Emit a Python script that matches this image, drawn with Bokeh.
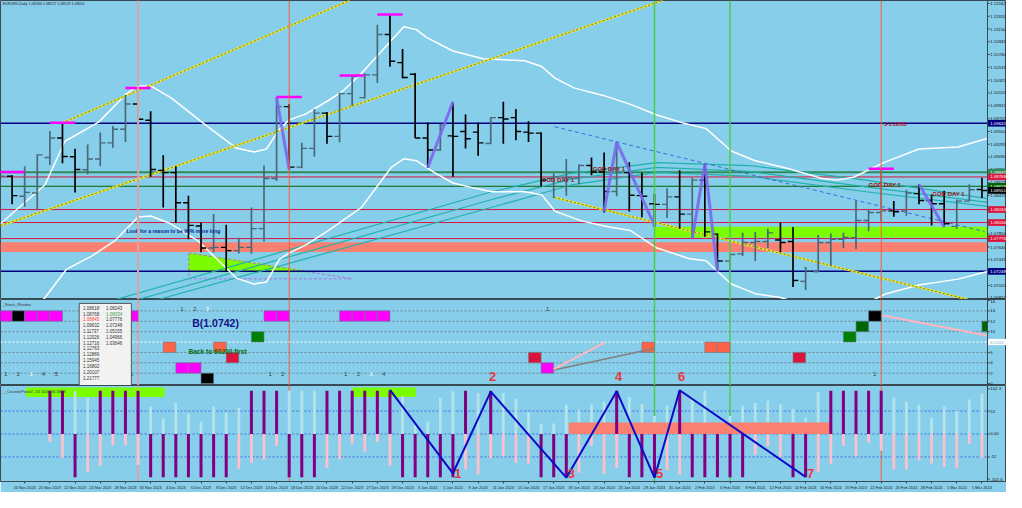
from bokeh.plotting import figure
from bokeh.layouts import column
from bokeh.models import (ColumnDataSource, Span, LabelSet, Range1d,
                          FixedTicker, CustomJSTickFormatter)
from bokeh.core.properties import value
from bokeh.embed import file_html
from bokeh.resources import INLINE

# ======================= DATA =======================
nov_days = [14, 15, 16, 17, 20, 21, 22, 23, 24, 27, 28, 29, 30]
dec_days = [1, 4, 5, 6, 7, 8, 11, 12, 13, 14, 15, 18, 19, 20, 21, 22, 26, 27, 28, 29]
jan_days = [2, 3, 4, 5, 8, 9, 10, 11, 12, 15, 16, 17, 18, 19, 22, 23, 24, 25, 26, 29, 30, 31]
feb_days = [1, 2, 5, 6, 7, 8, 9, 12, 13, 14, 15, 16, 19, 20, 21, 22, 23, 26, 27, 28, 29]
mar_days = [1, 4, 5]
bar_dates = ([f"{d} Nov 2023" for d in nov_days] + [f"{d} Dec 2023" for d in dec_days] +
             [f"{d} Jan 2024" for d in jan_days] + [f"{d} Feb 2024" for d in feb_days] +
             [f"{d} Mar 2024" for d in mar_days])

opens = [1.06990, 1.08780, 1.08457, 1.08509, 1.09082, 1.09395, 1.09093, 1.08884, 1.09056, 1.09317,
         1.09535, 1.09942, 1.09681, 1.08874, 1.08837, 1.08353, 1.07978, 1.07623, 1.07634, 1.07582,
         1.07634, 1.07936, 1.08743, 1.09900, 1.08926, 1.09228, 1.09796, 1.09421, 1.10109, 1.10046,
         1.10411, 1.11062, 1.10609, 1.10421, 1.09395, 1.09202, 1.09430, 1.09499, 1.09489, 1.09306,
         1.09723, 1.09723, 1.09489, 1.09473, 1.08754, 1.08754, 1.08754, 1.08952, 1.08848, 1.08535,
         1.08837, 1.08467, 1.08337, 1.08327, 1.08447, 1.08170, 1.08717, 1.07847, 1.07415, 1.07530,
         1.07712, 1.07728, 1.07754, 1.07728, 1.07087, 1.07243, 1.07712, 1.07764, 1.07790, 1.08066,
         1.08196, 1.08222, 1.08222, 1.08499, 1.08389, 1.08337, 1.07972, 1.08379, 1.08566]
highs = [1.08848, 1.08796, 1.08941, 1.09134, 1.09509, 1.09640, 1.09223, 1.09291, 1.09483, 1.09588,
         1.10088, 1.10202, 1.09827, 1.09119, 1.08941, 1.08467, 1.08040, 1.08170, 1.07998, 1.07790,
         1.08275, 1.08952, 1.10056, 1.09942, 1.09317, 1.09864, 1.09812, 1.10124, 1.10400, 1.10437,
         1.11218, 1.11385, 1.10827, 1.10437, 1.09645, 1.09629, 1.09968, 1.09775, 1.09645, 1.09730,
         1.09978, 1.09864, 1.09666, 1.09483, 1.08822, 1.09056, 1.08968, 1.09082, 1.09160, 1.09327,
         1.09004, 1.08837, 1.08493, 1.08587, 1.08874, 1.08754, 1.08978, 1.07858, 1.07545, 1.07868,
         1.07884, 1.07936, 1.08040, 1.07962, 1.07321, 1.07832, 1.07858, 1.07868, 1.08379, 1.08249,
         1.08900, 1.08379, 1.08561, 1.08650, 1.08483, 1.08546, 1.08405, 1.08650, 1.08754]
lows = [1.06950, 1.08327, 1.08290, 1.08249, 1.08962, 1.08988, 1.08519, 1.08811, 1.08941, 1.09238,
        1.09332, 1.09593, 1.08770, 1.08275, 1.08025, 1.07764, 1.07556, 1.07556, 1.07243, 1.07535,
        1.07530, 1.07728, 1.08702, 1.08884, 1.08910, 1.09093, 1.09301, 1.09327, 1.09916, 1.10030,
        1.10280, 1.10541, 1.10359, 1.09395, 1.08915, 1.09190, 1.08770, 1.09228, 1.09108, 1.09300,
        1.09301, 1.09358, 1.09332, 1.08613, 1.08431, 1.08467, 1.08650, 1.08796, 1.08196, 1.08457,
        1.08212, 1.08118, 1.07962, 1.08108, 1.07936, 1.07780, 1.07806, 1.07243, 1.07233, 1.07493,
        1.07415, 1.07623, 1.07556, 1.06998, 1.06946, 1.07233, 1.07337, 1.07623, 1.07608, 1.07894,
        1.08040, 1.08129, 1.08144, 1.08327, 1.07988, 1.07962, 1.07936, 1.08379, 1.08431]
closes = [1.08780, 1.08467, 1.08519, 1.09124, 1.09395, 1.09098, 1.08889, 1.09056, 1.09317, 1.09535,
          1.09942, 1.09697, 1.08889, 1.08837, 1.08353, 1.07988, 1.07623, 1.07634, 1.07582, 1.07634,
          1.07936, 1.08743, 1.09900, 1.08926, 1.09228, 1.09796, 1.09421, 1.10109, 1.10385, 1.10411,
          1.11062, 1.10630, 1.10369, 1.09395, 1.09202, 1.09603, 1.09421, 1.09384, 1.09317, 1.09723,
          1.09700, 1.09499, 1.09473, 1.08717, 1.08770, 1.08760, 1.08952, 1.08848, 1.08535, 1.08837,
          1.08473, 1.08457, 1.08327, 1.08447, 1.08170, 1.08717, 1.07884, 1.07415, 1.07519, 1.07712,
          1.07728, 1.07868, 1.07712, 1.07102, 1.07259, 1.07712, 1.07764, 1.07795, 1.08066, 1.08196,
          1.08222, 1.08207, 1.08509, 1.08389, 1.08337, 1.08014, 1.08379, 1.08561, 1.08551]

price_ticks = [1.11562, 1.11355, 1.11150, 1.10945, 1.10740, 1.10533, 1.10325, 1.10120, 1.09915,
               1.09705, 1.09500, 1.09295, 1.09090, 1.08880, 1.08675, 1.08470, 1.08260, 1.08055,
               1.07850, 1.07640, 1.07435, 1.07230, 1.07020, 1.06815]
price_min, price_max = 1.06795, 1.11609

blue_levels = [1.09632, 1.07248]
red_levels = [1.08768, 1.08243, 1.08034, 1.07776]
green_level_thick = 1.08845
green_level_thin = 1.08618
last_price = 1.08551
salmon_zone = [1.07561, 1.07717]
lime_zone = [1.07795, 1.07967]
lime_zone_from = 52

bb_upper_x = [0.08, 3.6, 5.2, 7.9, 10.0, 11.0, 12.0, 13.6, 16.25, 18.8, 20.2, 21.2, 22.2, 23.0, 24.3,
              26.1, 27.2, 28.75, 30.0, 32.1, 33.1, 33.9, 36.0, 38.4, 41.7, 43.05, 44.1, 45.6, 48.0,
              50.1, 52.2, 54.2, 56.1, 58.1, 60.0, 62.6, 65.2, 66.5, 67.8, 70.2, 73.0, 76.1, 78.2, 78.44]
bb_upper_y = [1.08014, 1.08639, 1.09343, 1.09655, 1.10093, 1.10234, 1.10234, 1.10046, 1.09624,
              1.09233, 1.09171, 1.09218, 1.09530, 1.09687, 1.09780, 1.09999, 1.10140, 1.10437,
              1.10718, 1.11187, 1.11140, 1.11015, 1.10796, 1.10671, 1.10640, 1.10546, 1.10359,
              1.10202, 1.10077, 1.09937, 1.09765, 1.09640, 1.09546, 1.09186, 1.09030, 1.08905,
              1.08749, 1.08717, 1.08764, 1.08999, 1.09218, 1.09249, 1.09374, 1.09388]
bb_lower_x = [2.8, 5.3, 7.35, 9.2, 11.0, 12.0, 13.6, 15.7, 17.8, 18.8, 20.2, 21.2, 22.2, 23.0, 24.3,
              26.1, 28.75, 31.1, 32.1, 33.1, 34.5, 36.0, 37.6, 39.1, 41.7, 43.05, 44.1, 46.2, 48.3,
              50.1, 52.2, 54.8, 56.1, 58.1, 60.0, 62.0, 65.7, 68.8, 70.4, 73.0, 76.1, 78.2, 78.44]
bb_lower_y = [1.06607, 1.07279, 1.07498, 1.07748, 1.08124, 1.08139, 1.08014, 1.07748, 1.07342,
              1.07139, 1.07045, 1.07076, 1.07436, 1.07545, 1.07670, 1.07905, 1.08280, 1.08921,
              1.09061, 1.09030, 1.08842, 1.08671, 1.08592, 1.08530, 1.08530, 1.08483, 1.08217,
              1.08061, 1.07967, 1.07905, 1.07623, 1.07451, 1.07420, 1.07045, 1.06889, 1.06826,
              1.06607, 1.06732, 1.06889, 1.07029, 1.07123, 1.07233, 1.07248]

fan_x = [[9.22, 39.1, 45.4, 52.2, 59.5, 68.8, 78.44],
         [11.0, 39.1, 45.4, 52.2, 59.5, 68.8, 78.44],
         [12.6, 39.1, 45.4, 52.2, 59.5, 68.8, 78.44]]
fan_y = [[1.06795, 1.08530, 1.08827, 1.08999, 1.08952, 1.08717, 1.08420],
         [1.06795, 1.08405, 1.08733, 1.08921, 1.08858, 1.08608, 1.08358],
         [1.06795, 1.08280, 1.08639, 1.08842, 1.08780, 1.08530, 1.08295]]

yellow_x = [[5.0, 27.8], [0.08, 52.66], [44.06, 76.9]]
yellow_y = [[1.09640, 1.11609], [1.07983, 1.11609], [1.08436, 1.06795]]
blue_dash_x = [44.06, 78.2]
blue_dash_y = [1.09577, 1.07889]

swing_x = [[22, 23], [34, 36], [48, 49, 52], [55, 56, 57], [73, 75]]
swing_y = [[1.10046, 1.08889], [1.08916, 1.09979], [1.08213, 1.09327, 1.07987],
           [1.07780, 1.08978, 1.07244], [1.08650, 1.07962]]

mag_bars = [0, 4, 10, 22, 27, 30, 69]
mag_prices = [1.08848, 1.09640, 1.10200, 1.10056, 1.10400, 1.11385, 1.08900]

tri_x = [15.03, 15.03, 24.6]
tri_y = [1.07545, 1.07243, 1.07243]
tri_guide_x = [15.03, 28.0]
tri_guide_y = [1.07545, 1.07128]

v_pale_bar = 11
v_red_bars = [23, 70]
v_green_bars = [52, 58]

god_day_x = [43.05, 47.1, 69.0, 74.06]
god_day_y = [1.08717, 1.08889, 1.08639, 1.08499]

# stochastic-style blocks panel
stoch_bars = [0, 1, 2, 3, 4, 10, 13, 14, 15, 16, 17, 18, 20, 21, 22, 27, 28, 29, 30,
              42, 43, 51, 56, 57, 63, 67, 68, 69, 78]
stoch_levels = [13, 13, 13, 13, 13, 13, 7, 3, 3, 1, 7, 5, 9, 13, 13, 13, 13, 13, 13,
                5, 3, 7, 7, 7, 5, 9, 11, 13, 11]
stoch_kind = ["M", "K", "M", "M", "M", "M", "T", "M", "M", "K", "T", "C", "G", "M", "M",
              "M", "M", "M", "M", "C", "M", "T", "T", "T", "C", "G", "D", "K", "D"]
stoch_num_bars = [0, 1, 2, 3, 4, 10, 14, 15, 16, 21, 22, 27, 28, 29, 30, 43, 69]
stoch_num_text = ["1", "2", "3", "4", "5", "1", "1", "2", "3", "1", "2", "1", "2", "3", "4", "1", "1"]
stoch_num_top = [0, 0, 0, 0, 0, 0, 1, 1, 1, 0, 0, 0, 0, 0, 0, 1, 0]
stoch_grid = [2, 4, 6, 10, 12, 14]
stoch_ticks = [16, 14, 12, 10, 6, 4, 2, 0]
table_left = ["1.08618", "1.08768", "1.08845", "1.09632", "1.11737", "1.12026", "1.12716",
              "1.12763", "1.12889", "1.15945", "1.16802", "1.20107", "1.21777"]
table_right = ["1.08243", "1.08034", "1.07776", "1.07248", "1.05155", "1.04966", "1.03646"]
stoch_lines_x = [[44.0, 52.0], [44.0, 48.05], [70.05, 78.4]]
stoch_lines_y = [[2.6, 6.75], [2.8, 7.9], [13.15, 9.25]]

# counterpoint histogram panel
cp_pos = [None, None, None, None, 98, 98, 97, 82, 98, 98, 98, 98, 62, 35, 70, 46, 28, 62, 48, 59,
          98, 98, 98, 98, 98, 98, 98, 98, 98, 98, 98, 98, 86, 19, 28, 82, 97, 98, 92, 98,
          92, 80, 48, 23, 24, 66, 55, 67, 73, 98, 84, 68, 41, 64, 98, 84, 98, 6, 41, 64,
          70, 75, 67, 57, 36, 95, 98, 98, 98, 98, 98, 82, 73, 66, 36, 62, 52, 78, 91]
cp_pos_kind = "----PPLLPPPPLLLLLLLLPPPLLLPPPPPPLLLLLPLPLLLLLLLLLPLLLLPLLLLLLLLLLLPPPPPLLLLLLLL"
cp_neg = [None, None, None, None, -18, -54, -98, -87, -72, -25, -25, -70, -98, -98, -98, -98, -98,
          -98, -98, -79, -65, -58, -27, -98, -98, -98, -77, -57, -22, -40, -18, -72, -98, -98,
          -98, -98, -98, -80, -92, -55, -51, -65, -67, -98, -98, -98, -88, -27, -90, -77, -98,
          -98, -98, -82, -92, -98, -98, -98, -98, -98, -47, -27, -52, -98, -98, -87, -68, -27,
          -51, -20, -38, -80, -81, -60, -67, -74, -77, -22, -54]
cp_neg_kind = "----KKPKKKKKPPPPPPPKKKKPPPKKKKKKPPPPPKKKKKKPPPKKKKPPPKKPPPPPKKKPPKKKKKKKKKKKKKK"
cp_band = [45.2, 66.1, 0, 26]
cp_lime = [[2.1, 13.1], [28.0, 33.05]]
zig_bars = [31, 36, 39, 45, 49, 52, 54, 64]
zig_vals = [100, -89, 96, -99, 97, -99, 99, -97]
zig_names = ["", "1", "2", "3", "4", "5", "6", "7"]
cp_ticks = [102.3, 52, 0, -52, -102.3]
cp_tick_text = ["102.3", "52", "0.00", "-52", "-102.3"]

# ======================= STYLE / LAYOUT =======================
BG = "#87ceeb"
W = 1006
FW = 987                      # width of the plotting area left of the price scale
X0 = 0.08
AXIS_X = 78.44                # position of the price-scale line (in bar units)
X1 = X0 + (AXIS_X - X0) * W / FW
FRAME = "#3a4a55"
SANS = "Liberation Sans, Arial, DejaVu Sans, sans-serif"

xr = Range1d(X0, X1)
LAB_X = AXIS_X + 0.22


def make_fig(h, yr, xaxis=False):
    f = figure(width=W, height=h, x_range=xr, y_range=yr, output_backend="svg",
               toolbar_location=None, x_axis_type=("linear" if xaxis else None),
               y_axis_type=None, min_border_left=0, min_border_right=0,
               min_border_top=0, min_border_bottom=0,
               background_fill_color=BG, border_fill_color=BG,
               outline_line_color=FRAME, outline_line_width=1)
    f.grid.visible = False
    return f


def vlines(f, level="annotation"):
    f.add_layout(Span(location=v_pale_bar, dimension="height", line_color="#dea3a3",
                      line_width=2, level=level))
    for b in v_red_bars:
        f.add_layout(Span(location=b, dimension="height", line_color="#ff5a36",
                          line_width=1, level=level))
    for b in v_green_bars:
        f.add_layout(Span(location=b, dimension="height", line_color="#4ccd4c",
                          line_width=1.5, level=level))
    f.add_layout(Span(location=AXIS_X, dimension="height", line_color=FRAME,
                      line_width=1, level="annotation"))


def hlines(f, vals, color, width, dash="solid"):
    f.segment(x0=[X0] * len(vals), y0=vals, x1=[AXIS_X] * len(vals), y1=vals,
              line_color=color, line_width=width, line_dash=dash)


def scale_labels(f, vals, texts, tick_len, margin, color="#111111"):
    lo, hi = f.y_range.start + margin, f.y_range.end - margin
    f.segment(x0=[AXIS_X] * len(vals), y0=vals, x1=[AXIS_X + tick_len] * len(vals), y1=vals,
              line_color=FRAME, line_width=1)
    f.text(x=[LAB_X] * len(vals), y=[min(max(v, lo), hi) for v in vals], text=texts,
           text_font=value(SANS), text_font_size="4.3px", text_baseline="middle",
           text_color=color)


def scale_box(f, v, half, text, fill, tcolor="white"):
    f.quad(left=[AXIS_X + 0.05], right=[X1], bottom=[v - half], top=[v + half],
           fill_color=fill, line_color=fill)
    f.text(x=[LAB_X], y=[v], text=[text], text_font=value(SANS), text_font_size="4.3px",
           text_baseline="middle", text_color=tcolor)


# ---------------- main price panel ----------------
p1 = make_fig(299, Range1d(price_min, price_max))

p1.quad(left=[X0], right=[AXIS_X], bottom=[salmon_zone[0]], top=[salmon_zone[1]],
        fill_color="#fa8072", line_color=None)
p1.quad(left=[lime_zone_from], right=[AXIS_X], bottom=[lime_zone[0]], top=[lime_zone[1]],
        fill_color="#7cfc00", line_color=None)

p1.patch(tri_x, tri_y, fill_color="#7cfc00", line_color="#7cfc00", line_width=1)
p1.line(tri_guide_x, tri_guide_y, line_color="#b070e0", line_dash="3 2", line_width=1)
p1.line([tri_guide_x[0], tri_guide_x[1]], [tri_guide_y[1], tri_guide_y[1]],
        line_color="#b070e0", line_dash="3 2", line_width=1)
p1.line([tri_guide_x[0], tri_guide_x[0]], [tri_guide_y[0], tri_guide_y[1]],
        line_color="#b070e0", line_dash="3 2", line_width=1)

hlines(p1, blue_levels, "#000080", 1.5)
hlines(p1, red_levels, "#dc143c", 1)
hlines(p1, [green_level_thick], "#2e8b57", 2)
hlines(p1, [green_level_thin], "#006400", 1)

p1.multi_line(fan_x, fan_y, line_color="#20b2aa", line_width=1.2)
p1.line(bb_upper_x, bb_upper_y, line_color="white", line_width=1.5)
p1.line(bb_lower_x, bb_lower_y, line_color="white", line_width=1.5)
p1.multi_line(yellow_x, yellow_y, line_color="#e8e830", line_width=2)
p1.multi_line(yellow_x, yellow_y, line_color="#7d7d2a", line_width=1, line_dash="2 2")
p1.line(blue_dash_x, blue_dash_y, line_color="#4169e1", line_width=1, line_dash="4 3")

xs = list(range(len(opens)))
bar_col = ["#4a6878" if c >= o else "#000000" for o, c in zip(opens, closes)]
bsrc = ColumnDataSource(dict(x=xs, o=opens, h=highs, l=lows, c=closes,
                             xl=[x - 0.42 for x in xs], xr=[x + 0.42 for x in xs], col=bar_col))
p1.segment("x", "l", "x", "h", source=bsrc, line_color="col", line_width=1.7)
p1.segment("xl", "o", "x", "o", source=bsrc, line_color="col", line_width=1.4)
p1.segment("x", "c", "xr", "c", source=bsrc, line_color="col", line_width=1.4)

p1.multi_line(swing_x, swing_y, line_color="#7b68ee", line_width=3, line_alpha=0.9)
p1.segment(x0=mag_bars, y0=mag_prices, x1=[b + 2 for b in mag_bars], y1=mag_prices,
           line_color="#ff00ff", line_width=2.5)

vlines(p1)

p1.text(x=god_day_x, y=god_day_y, text=["GOD DAY 1"] * len(god_day_x),
        text_font=value(SANS), text_font_style="bold", text_font_size="6px",
        text_color="#9b1010", text_baseline="middle")
p1.text(x=[10.08], y=[1.07905], text=["Look for a reason to be 90% more long"],
        text_font=value(SANS), text_font_style="bold", text_font_size="5.1px",
        text_color="#0b1f8a", text_baseline="middle")
p1.text(x=[70.2], y=[1.09624], text=["S-1.09563"], text_font=value(SANS),
        text_font_style="bold", text_font_size="5px", text_color="#b01030",
        text_baseline="middle")
p1.text(x=[0.25], y=[1.11545], text=["EURUSD,Daily  1.08566 1.08572 1.08523 1.08551"],
        text_font=value(SANS), text_font_size="3.7px", text_color="#222222",
        text_baseline="middle")

scale_labels(p1, price_ticks, [f"{v:.5f}" for v in price_ticks], 0.18, 0.0004)
half_p = 0.00045
for v, fc in [(blue_levels[0], "#000080"), (green_level_thick, "#2e8b57"),
              (red_levels[0], "#dc143c"), (green_level_thin, "#006400"),
              (last_price, "#000000"), (red_levels[1], "#dc143c"), (red_levels[2], "#dc143c"),
              (red_levels[3], "#dc143c"), (blue_levels[1], "#000080")]:
    scale_box(p1, v, half_p, f"{v:.5f}", fc)

# ---------------- stochastic panel ----------------
p2 = make_fig(86, Range1d(-0.37, 16.19))
hlines(p2, stoch_grid, "#6f8190", 1, "2 2")
hlines(p2, [8], "white", 1, "2 2")
vlines(p2, "underlay")

kind_col = {"M": "#ff00ff", "K": "#000000", "T": "#ff6347", "C": "#dc143c",
            "G": "#008000", "D": "#006400"}
p2.quad(left=stoch_bars, right=[min(b + 1, AXIS_X) for b in stoch_bars],
        bottom=[v - 1 for v in stoch_levels], top=[v + 1 for v in stoch_levels],
        fill_color=[kind_col[k] for k in stoch_kind], line_color="#5f7f8f", line_width=0.6)
p2.multi_line(stoch_lines_x[:1], stoch_lines_y[:1], line_color="#808080", line_width=1.5)
p2.multi_line(stoch_lines_x[1:], stoch_lines_y[1:], line_color="#ffb6c1", line_width=2)

p2.text(x=[b + 0.5 for b in stoch_num_bars], y=[14.4 if t else 1.85 for t in stoch_num_top],
        text=stoch_num_text, text_font=value(SANS), text_font_size="5.5px",
        text_color=["white" if s == "3" else "#333333" for s in stoch_num_text],
        text_align="center", text_baseline="middle")

# info table
p2.quad(left=[6.33], right=[10.47], bottom=[-1], top=[15.44], fill_color="#f2f2f2",
        line_color="#555555", line_width=1)
p2.text(x=[6.62] * len(table_left), y=[14.6 - 1.12 * i for i in range(len(table_left))],
        text=table_left, text_font=value(SANS), text_font_size="4.5px",
        text_color=["#ff4040" if i == 2 else "#333333" for i in range(len(table_left))],
        text_baseline="middle")
p2.text(x=[8.45] * len(table_right), y=[14.6 - 1.12 * i for i in range(len(table_right))],
        text=table_right, text_font=value(SANS), text_font_size="4.5px",
        text_color=["#40a040" if i == 1 else "#333333" for i in range(len(table_right))],
        text_baseline="middle")

p2.text(x=[15.3], y=[11.7], text=["B(1.0742)"], text_font=value(SANS),
        text_font_style="bold", text_font_size="10.5px", text_color="#14148a",
        text_baseline="middle")
p2.text(x=[15.0], y=[6.1], text=["Back to 60200 first"], text_font=value(SANS),
        text_font_style="bold", text_font_size="6.6px", text_color="#0a6a0a",
        text_baseline="middle")
p2.text(x=[0.25], y=[15.3], text=["_Stoch_Rhodes"], text_font=value(SANS),
        text_font_size="4px", text_color="#333333", text_baseline="middle")
p2.text(x=[zig_bars[i] + 0.15 for i in (2, 4, 6)], y=[0.45] * 3,
        text=[zig_names[i] for i in (2, 4, 6)], text_font=value(SANS),
        text_font_style="bold", text_font_size="13px", text_color="#e8383d",
        text_align="center", text_baseline="bottom")

scale_labels(p2, stoch_ticks, [str(t) for t in stoch_ticks], 0.18, 0.45)
scale_box(p2, 8, 0.5, "8.0000", "white", "#8fb0cc")

# ---------------- counterpoint panel ----------------
p3 = make_fig(107, Range1d(-107.6, 109.8), xaxis=True)
hlines(p3, [52, 0, -52], "#3d6be0", 1, "2 2")
vlines(p3, "underlay")

p3.quad(left=[a for a, b in cp_lime], right=[b for a, b in cp_lime], bottom=[84] * 2,
        top=[105.5] * 2, fill_color="#7cfc00", line_color=None)

idx = [i for i in range(len(cp_pos)) if cp_pos[i] is not None]
lx = [i for i in idx if cp_pos_kind[i] == "L"]
p3.vbar(x=lx, top=[cp_pos[i] for i in lx], bottom=0, width=0.22,
        fill_color="#b4e4ea", line_color=None)
p3.quad(left=[cp_band[0]], right=[cp_band[1]], bottom=[cp_band[2]], top=[cp_band[3]],
        fill_color="#fa8072", line_color=None)
px = [i for i in idx if cp_pos_kind[i] == "P"]
p3.vbar(x=px, top=[cp_pos[i] for i in px], bottom=0, width=0.24,
        fill_color="#800080", line_color=None)
nk = [i for i in idx if cp_neg_kind[i] == "K"]
p3.vbar(x=nk, top=0, bottom=[cp_neg[i] for i in nk], width=0.22,
        fill_color="#ffc0cb", line_color=None)
npx = [i for i in idx if cp_neg_kind[i] == "P"]
p3.vbar(x=npx, top=0, bottom=[cp_neg[i] for i in npx], width=0.24,
        fill_color="#800080", line_color=None)

p3.line(zig_bars, zig_vals, line_color="#0a0ac8", line_width=2)
low_idx = [1, 3, 5, 7]
p3.text(x=[zig_bars[i] + 0.4 for i in low_idx], y=[-80] * 4,
        text=[zig_names[i] for i in low_idx], text_font=value(SANS),
        text_font_style="bold", text_font_size="13px", text_color="#e8383d",
        text_align="center", text_baseline="top")
p3.text(x=[0.25], y=[96], text=["__CounterPointZ -33 1000 33.3868"], text_font=value(SANS),
        text_font_size="4px", text_color="#333333", text_baseline="middle")

scale_labels(p3, cp_ticks, cp_tick_text, 0.18, 4.5)

ax = p3.xaxis[0]
ax.ticker = FixedTicker(ticks=list(range(0, len(bar_dates), 2)))
ax.formatter = CustomJSTickFormatter(args=dict(labels=bar_dates),
                                     code="return labels[Math.round(tick)] || '';")
ax.major_label_text_font_size = "3.9px"
ax.major_label_text_font = SANS
ax.major_label_text_color = "#222222"
ax.major_label_text_align = "left"
ax.major_label_standoff = 1
ax.major_tick_in = 0
ax.major_tick_out = 2
ax.minor_tick_line_color = None
ax.axis_line_color = FRAME
ax.major_tick_line_color = FRAME

layout = column(p1, p2, p3, spacing=0)
open("out.html", "w").write(file_html(layout, INLINE))
